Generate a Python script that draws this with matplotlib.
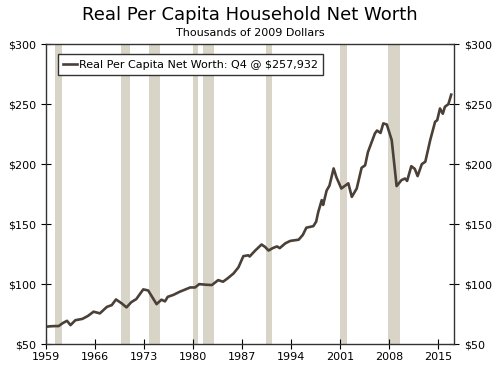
import matplotlib
matplotlib.use("Agg")
import matplotlib.pyplot as plt

# values (year, thousands of 2009 dollars)
years = [1959.0, 1959.6, 1960.2, 1960.8, 1961.4, 1962.0, 1962.5, 1963.2, 1964.2,
         1965.0, 1965.8, 1966.7, 1967.7, 1968.4, 1969.0, 1969.8, 1970.5, 1971.2,
         1971.9, 1972.9, 1973.6, 1974.2, 1974.8, 1975.5, 1976.0, 1976.4, 1977.2,
         1978.1, 1978.9, 1979.6, 1980.3, 1980.9, 1981.8, 1982.7, 1983.6, 1984.3,
         1985.0, 1985.8, 1986.5, 1987.2, 1987.9, 1988.1, 1988.9, 1989.8, 1990.3,
         1990.8, 1991.4, 1992.0, 1992.4, 1993.2, 1993.9, 1995.1, 1995.7, 1996.2,
         1997.2, 1997.6, 1997.9, 1998.4, 1998.6, 1999.1, 1999.5, 2000.1, 2000.5,
         2001.2, 2001.5, 2002.2, 2002.7, 2003.4, 2004.1, 2004.6, 2005.0, 2006.0,
         2006.3, 2006.8, 2007.2, 2007.7, 2008.4, 2009.1, 2009.8, 2010.3, 2010.6,
         2011.2, 2011.7, 2012.1, 2012.7, 2013.2, 2013.9, 2014.6, 2014.9, 2015.3,
         2015.7, 2016.0, 2016.5, 2016.9]
net_worth = [64.5, 64.8, 65.0, 65.0, 67.5, 69.4, 65.8, 69.9, 71.0,
             73.5, 77.0, 75.6, 81.0, 82.5, 87.2, 84.0, 80.6, 85.0,
             87.5, 95.6, 94.7, 89.0, 83.3, 87.0, 85.6, 89.4, 91.0,
             93.6, 95.5, 97.2, 97.2, 100.0, 99.5, 99.2, 103.3, 102.0,
             105.0, 108.9, 114.0, 123.3, 124.0, 123.0, 128.0, 133.0, 131.0,
             128.0, 130.0, 131.4, 130.0, 134.0, 136.0, 137.0, 141.0, 147.0,
             148.3, 152.0, 160.0, 170.0, 166.0, 178.0, 182.0, 196.4, 189.0,
             179.7, 181.0, 184.0, 172.7, 179.7, 197.0, 199.0, 210.0, 225.6,
             228.0, 226.0, 234.0, 233.0, 220.0, 181.7, 186.7, 188.0, 186.0,
             198.3, 196.0, 190.0, 200.0, 202.0, 220.0, 235.3, 236.6, 246.4,
             242.0, 247.8, 250.0, 257.9]

# NBER recessions, as drawn in the reference
rec_start = [1960.25, 1969.75, 1973.75, 1980.0, 1981.5, 1990.5, 2001.0, 2007.9]
rec_end = [1961.25, 1971.0, 1975.25, 1980.75, 1983.0, 1991.25, 2002.0, 2009.6]

tick_years = [1959, 1966, 1973, 1980, 1987, 1994, 2001, 2008, 2015]
tick_vals = [50, 100, 150, 200, 250, 300]

fig = plt.figure(figsize=(5.0, 3.68), dpi=100)
ax = fig.add_axes([0.092, 0.065, 0.816, 0.815])

for s, e in zip(rec_start, rec_end):
    ax.axvspan(s, e, color="#d8d4c8", lw=0)

ax.plot(years, net_worth, color="#4a4038", lw=1.9,
        label="Real Per Capita Net Worth: Q4 @ $257,932")

ax.set_xlim(1959, 2017.3)
ax.set_ylim(50, 300)
ax.set_xticks(tick_years)
ax.set_yticks(tick_vals)
ax.set_yticklabels([f"${v}" for v in tick_vals])
ax.tick_params(direction="inout", length=7, labelsize=8, colors="black",
               right=True, labelright=True)
ax.tick_params(axis="x", pad=2)
for sp in ax.spines.values():
    sp.set_color("#333333")
    sp.set_linewidth(1)

leg = ax.legend(loc="upper left", bbox_to_anchor=(0.015, 0.985), fontsize=8,
                handlelength=1.2, handletextpad=0.2, borderpad=0.5,
                fancybox=False, framealpha=1)
leg.get_frame().set_edgecolor("#333333")
leg.get_frame().set_linewidth(1)

fig.text(0.5, 0.945, "Real Per Capita Household Net Worth", ha="center",
         fontsize=13)
fig.text(0.5, 0.903, "Thousands of 2009 Dollars", ha="center", fontsize=8)

fig.savefig("out.png", dpi=100)
